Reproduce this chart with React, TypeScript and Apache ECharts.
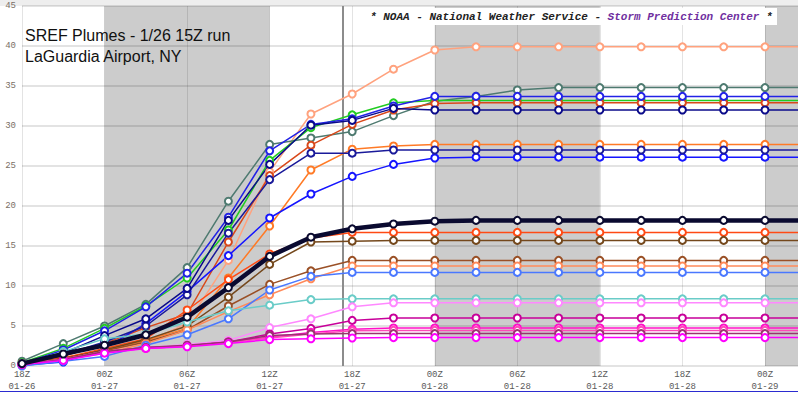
import React, { useEffect, useRef } from "react";
import * as echarts from "echarts";

// Forecast hours since 18Z 01-26 (3-hourly)
const hours = [0, 3, 6, 9, 12, 15, 18, 21, 24, 27, 30, 33, 36, 39, 42, 45, 48, 51, 54, 57];
const xTickLabels = [
  "18Z\n01-26", "00Z\n01-27", "06Z\n01-27", "12Z\n01-27", "18Z\n01-27",
  "00Z\n01-28", "06Z\n01-28", "12Z\n01-28", "18Z\n01-28", "00Z\n01-29",
];
const nightBands = [[6, 18], [30, 42], [54, 66]];
const nowHour = 23.3;

// Members (inches)
const salmon = [0.3, 1.0, 1.8, 3.0, 5.3, 13.2, 24.3, 31.5, 34.0, 37.1, 39.5, 39.9, 39.9, 39.9, 39.9, 39.9, 39.9, 39.9, 39.9, 39.9];
const slate = [0.6, 2.8, 5.0, 7.7, 12.3, 20.6, 27.7, 28.5, 29.3, 31.3, 33.1, 33.7, 34.5, 34.8, 34.8, 34.8, 34.8, 34.8, 34.8, 34.8];
const green = [0.4, 2.2, 4.7, 7.5, 11.0, 17.0, 25.7, 29.8, 31.4, 32.9, 33.2, 33.2, 33.2, 33.2, 33.2, 33.2, 33.2, 33.2, 33.2, 33.2];
const redOrange = [0.3, 1.2, 2.8, 4.8, 6.5, 15.5, 23.8, 27.6, 30.2, 32.0, 32.8, 32.9, 32.9, 32.9, 32.9, 32.9, 32.9, 32.9, 32.9, 32.9];
const orange = [0.3, 1.0, 2.0, 3.2, 4.7, 11.0, 17.5, 24.5, 27.1, 27.5, 27.7, 27.7, 27.7, 27.7, 27.7, 27.7, 27.7, 27.7, 27.7, 27.7];
const blue2 = [0.1, 0.5, 2.2, 5.3, 9.3, 13.8, 18.5, 21.5, 23.7, 25.2, 26.0, 26.1, 26.1, 26.1, 26.1, 26.1, 26.1, 26.1, 26.1, 26.1];
const navy2 = [0.3, 1.4, 3.0, 5.0, 8.9, 16.6, 23.3, 26.6, 26.6, 27.0, 27.0, 27.0, 27.0, 27.0, 27.0, 27.0, 27.0, 27.0, 27.0, 27.0];
const blue = [0.3, 2.0, 4.4, 7.4, 11.6, 18.6, 26.9, 30.2, 30.9, 32.5, 33.7, 33.7, 33.7, 33.7, 33.7, 33.7, 33.7, 33.7, 33.7, 33.7];
const navy = [0.3, 1.6, 3.8, 5.9, 9.7, 18.2, 25.2, 30.1, 30.7, 32.2, 32.0, 32.0, 32.0, 32.0, 32.0, 32.0, 32.0, 32.0, 32.0, 32.0];
const redOrange2 = [0.3, 1.0, 2.2, 3.4, 7.0, 10.8, 14.0, 16.0, 16.7, 16.7, 16.7, 16.7, 16.7, 16.7, 16.7, 16.7, 16.7, 16.7, 16.7, 16.7];
const brown = [0.3, 0.9, 2.0, 3.3, 5.0, 8.6, 12.7, 15.5, 15.6, 15.7, 15.7, 15.7, 15.7, 15.7, 15.7, 15.7, 15.7, 15.7, 15.7, 15.7];
const brown2 = [0.3, 0.9, 1.9, 3.0, 4.5, 7.5, 10.2, 11.9, 13.2, 13.2, 13.2, 13.2, 13.2, 13.2, 13.2, 13.2, 13.2, 13.2, 13.2, 13.2];
const salmonOrange = [0.3, 0.8, 1.6, 2.8, 4.5, 6.8, 8.9, 10.9, 12.5, 12.5, 12.5, 12.5, 12.5, 12.5, 12.5, 12.5, 12.5, 12.5, 12.5, 12.5];
const cornflower = [0.0, 0.6, 1.2, 2.6, 3.9, 5.9, 9.5, 11.2, 11.7, 11.7, 11.7, 11.7, 11.7, 11.7, 11.7, 11.7, 11.7, 11.7, 11.7, 11.7];
const turquoise = [0.3, 1.8, 3.4, 4.0, 5.5, 6.9, 7.6, 8.3, 8.4, 8.4, 8.4, 8.4, 8.4, 8.4, 8.4, 8.4, 8.4, 8.4, 8.4, 8.4];
const pinkLight = [0.2, 0.8, 1.8, 2.3, 2.7, 3.2, 4.8, 5.9, 7.4, 7.9, 7.9, 7.9, 7.9, 7.9, 7.9, 7.9, 7.9, 7.9, 7.9, 7.9];
const magentaDark = [0.2, 0.8, 1.8, 2.3, 2.5, 3.0, 4.0, 4.7, 5.7, 6.0, 6.0, 6.0, 6.0, 6.0, 6.0, 6.0, 6.0, 6.0, 6.0, 6.0];
const magenta = [0.2, 0.8, 1.8, 2.2, 2.5, 3.0, 3.6, 4.2, 4.6, 4.75, 4.75, 4.75, 4.75, 4.75, 4.75, 4.75, 4.75, 4.75, 4.75, 4.75];
const pink = [0.2, 0.8, 1.8, 2.2, 2.5, 2.9, 3.5, 4.0, 4.4, 4.45, 4.45, 4.45, 4.45, 4.45, 4.45, 4.45, 4.45, 4.45, 4.45, 4.45];
const darkPurple = [0.2, 0.8, 1.8, 2.3, 2.6, 3.0, 3.8, 4.0, 4.05, 4.05, 4.05, 4.05, 4.05, 4.05, 4.05, 4.05, 4.05, 4.05, 4.05, 4.05];
const magentaBright = [0.2, 0.7, 1.6, 2.2, 2.4, 2.8, 3.3, 3.4, 3.5, 3.55, 3.55, 3.55, 3.55, 3.55, 3.55, 3.55, 3.55, 3.55, 3.55, 3.55];
const ensembleMean = [0.3, 1.5, 2.6, 3.9, 6.1, 9.8, 13.7, 16.1, 17.15, 17.75, 18.1, 18.2, 18.2, 18.2, 18.2, 18.2, 18.2, 18.2, 18.2, 18.2];

const members: [string, number[], string][] = [
  ["salmon", salmon, "#ffa27e"],
  ["slate", slate, "#4e7a70"],
  ["green", green, "#22cc22"],
  ["redOrange", redOrange, "#d9481a"],
  ["orange", orange, "#ff7a26"],
  ["blue2", blue2, "#1515ff"],
  ["navy2", navy2, "#1a1a9a"],
  ["blue", blue, "#2222e6"],
  ["navy", navy, "#0a0a8a"],
  ["redOrange2", redOrange2, "#ff4a14"],
  ["brown", brown, "#74481c"],
  ["brown2", brown2, "#9a5026"],
  ["salmonOrange", salmonOrange, "#ff8a5a"],
  ["cornflower", cornflower, "#4a78ff"],
  ["turquoise", turquoise, "#6accc8"],
  ["pinkLight", pinkLight, "#ff88ff"],
  ["magentaDark", magentaDark, "#c8009a"],
  ["magenta", magenta, "#ff10c8"],
  ["pink", pink, "#ff4ab8"],
  ["darkPurple", darkPurple, "#9a3370"],
  ["magentaBright", magentaBright, "#ff00ff"],
];

export default function App() {
  const ref = useRef<HTMLDivElement>(null);
  useEffect(() => {
    if (!ref.current) return;
    const chart = echarts.init(ref.current, null, { renderer: "svg" });
    const gridColor = "rgba(0,0,0,0.11)";
    const series: any[] = members.map(([name, vals, color], i) => ({
      name,
      type: "line",
      data: hours.map((h, j) => [h, vals[j]]),
      symbol: "circle",
      symbolSize: 7,
      showSymbol: true,
      silent: true,
      lineStyle: { color, width: 1.5 },
      itemStyle: { color: "#ffffff", borderColor: color, borderWidth: 2 },
      emphasis: { disabled: true },
      z: 2,
      ...(i === 0
        ? {
            markArea: {
              silent: true,
              itemStyle: { color: "rgba(0,0,0,0.2)" },
              data: nightBands.map(([a, b]) => [{ xAxis: a }, { xAxis: b }]),
            },
            markLine: {
              silent: true,
              z: 1,
              symbol: "none",
              label: { show: false },
              lineStyle: { color: "#8c8c8c", width: 2, type: "solid" },
              data: [{ xAxis: nowHour }],
            },
          }
        : {}),
    }));
    series.push({
      name: "mean",
      type: "line",
      data: hours.map((h, j) => [h, ensembleMean[j]]),
      symbol: "circle",
      symbolSize: 7,
      silent: true,
      lineStyle: { color: "#0a0a30", width: 4.5 },
      itemStyle: { color: "#ffffff", borderColor: "#0a0a30", borderWidth: 2 },
      emphasis: { disabled: true },
      z: 3,
    });

    chart.setOption({
      animation: false,
      backgroundColor: "#ffffff",
      grid: { left: 22, right: 0, top: 6, bottom: 30 },
      xAxis: {
        type: "value",
        min: 0,
        max: 56.4,
        interval: 6,
        axisLine: { show: false },
        axisTick: { show: false },
        splitLine: { show: true, lineStyle: { color: gridColor, width: 1 } },
        axisLabel: {
          showMaxLabel: false,
          margin: 3,
          fontFamily: "Liberation Mono",
          fontSize: 9,
          lineHeight: 12,
          color: "#5a5a5a",
          formatter: (v: number) => {
            const i = v / 6;
            return Number.isInteger(i) && i < xTickLabels.length ? xTickLabels[i] : "";
          },
        },
      },
      yAxis: {
        type: "value",
        min: 0,
        max: 45,
        interval: 5,
        axisLine: { show: false },
        axisTick: { show: false },
        splitLine: { show: true, lineStyle: { color: gridColor, width: 2 } },
        axisLabel: {
          margin: 6,
          fontFamily: "Liberation Mono",
          fontSize: 9,
          color: "#7a6f66",
        },
      },
      graphic: [
        { type: "rect", silent: true, z: 0, shape: { x: 0, y: 0, width: 798, height: 6 }, style: { fill: "#eeeeee" } },
        { type: "line", silent: true, z: 10, shape: { x1: 0, y1: 391.5, x2: 798, y2: 391.5 }, style: { stroke: "#2b2bd0", lineWidth: 1 } },
        { type: "rect", silent: true, z: 10, shape: { x: 367, y: 8, width: 410, height: 17 }, style: { fill: "#ffffff" } },
        {
          type: "text", silent: true, z: 11, x: 370, y: 17,
          style: { text: "* NOAA - National Weather Service - ", fontFamily: "Liberation Mono", fontStyle: "italic", fontWeight: "bold", fontSize: 11, fill: "#222222", verticalAlign: "middle" },
        },
        {
          type: "text", silent: true, z: 11, x: 370 + 36 * 6.6, y: 17,
          style: { text: "Storm Prediction Center", fontFamily: "Liberation Mono", fontStyle: "italic", fontWeight: "bold", fontSize: 11, fill: "#7030a0", verticalAlign: "middle" },
        },
        {
          type: "text", silent: true, z: 11, x: 370 + 59 * 6.6, y: 17,
          style: { text: " *", fontFamily: "Liberation Mono", fontStyle: "italic", fontWeight: "bold", fontSize: 11, fill: "#222222", verticalAlign: "middle" },
        },
        {
          type: "text", silent: true, z: 11, x: 25, y: 35,
          style: { text: "SREF Plumes - 1/26 15Z run", fontFamily: "Liberation Sans", fontSize: 16, fill: "#111111", verticalAlign: "middle" },
        },
        {
          type: "text", silent: true, z: 11, x: 25, y: 56,
          style: { text: "LaGuardia Airport, NY", fontFamily: "Liberation Sans", fontSize: 16, fill: "#111111", verticalAlign: "middle" },
        },
      ],
      series,
    });
    return () => chart.dispose();
  }, []);
  return (
    <div
      ref={ref}
      style={{ position: "fixed", left: 0, top: 0, width: 798, height: 396 }}
    />
  );
}
